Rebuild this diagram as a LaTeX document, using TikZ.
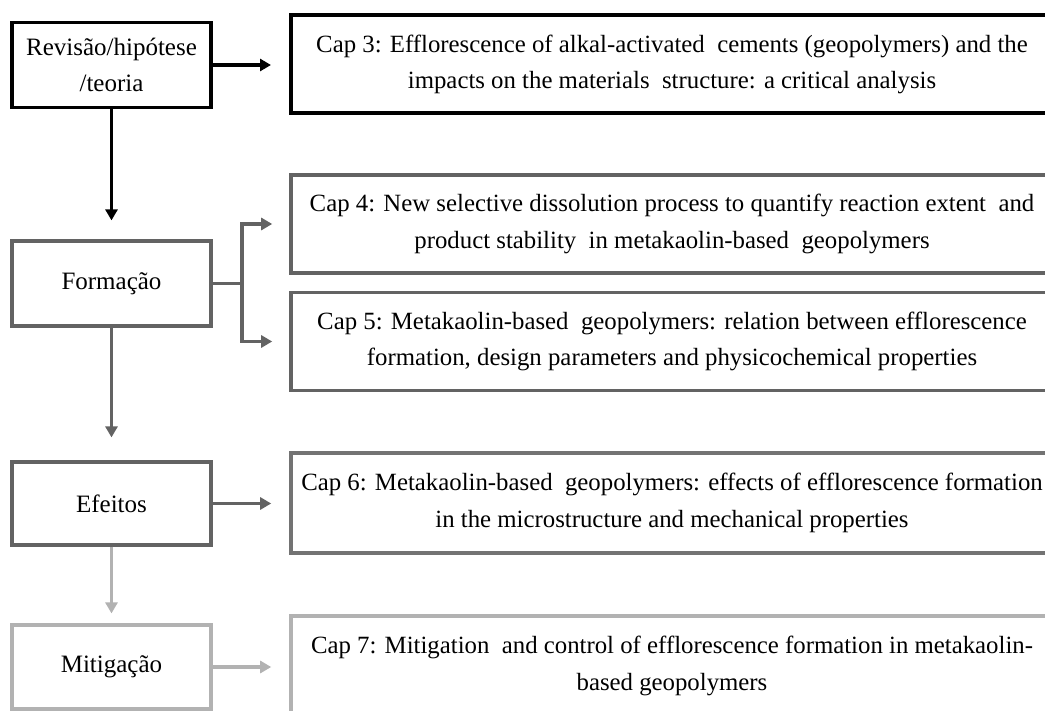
\documentclass[tikz,border=0pt]{standalone}
\usepackage{fontspec}
\setmainfont{Liberation Serif}
\usepackage{xcolor}
\usetikzlibrary{arrows.meta,positioning,calc}

\definecolor{stageblack}{HTML}{000000}
\definecolor{stagegray}{HTML}{636363}
\definecolor{stagelight}{HTML}{B2B2B2}

\tikzset{
  stagebox/.style={draw,rectangle,fill=white,line width=3.2pt,minimum width=199pt,
    minimum height=85pt,align=center,inner sep=0pt,font=\fontsize{25}{36}\selectfont},
  capbox/.style={draw,rectangle,fill=white,line width=3.6pt,minimum width=762pt,
    minimum height=98pt,align=center,inner sep=0pt,font=\fontsize{24.8}{36.5}\selectfont},
  link/.style={line width=3.2pt,-{Triangle[length=11pt,width=12pt]}}
}

\begin{document}
\begin{tikzpicture}[x=1pt,y=-1pt]
  \clip (0,0) rectangle (1045,711);
  \fill[white] (0,0) rectangle (1045,711);

  % stages on the left
  \node[stagebox,draw=stageblack] (rev) at (111.5,65) {Revisão/hipótese\\/teoria};
  \node[stagebox,draw=stagegray] (form) at (111.5,283.5) {Formação};
  \node[stagebox,draw=stagegray,minimum height=83pt] (eff) at (111.5,503.5) {Efeitos};
  \node[stagebox,draw=stagelight,minimum height=84pt] (mit) at (111.5,667) {Mitigação};

  % chapters on the right
  \node[capbox,draw=stageblack,line width=4pt] (cap3) at (672,64.5)
    {Cap 3: Efflorescence of alkal-activated \ cements (geopolymers) and the\\
     impacts on the materials \ structure: a critical analysis};
  \node[capbox,draw=stagegray] (cap4) at (672,224)
    {Cap 4: New selective dissolution process to quantify reaction extent \ and\\
     product stability \ in metakaolin-based \ geopolymers};
  \node[capbox,draw=stagegray] (cap5) at (672,341.5)
    {Cap 5: Metakaolin-based \ geopolymers: relation between efflorescence\\
     formation, design parameters and physicochemical properties};
  \node[capbox,draw=stagegray!90,minimum height=100pt] (cap6) at (672,503)
    {Cap 6: Metakaolin-based \ geopolymers: effects of efflorescence formation\\
     in the microstructure and mechanical properties};
  \node[capbox,draw=stagelight,minimum height=100pt] (cap7) at (672,666)
    {Cap 7: Mitigation \ and control of efflorescence formation in metakaolin-\\
     based geopolymers};

  % connectors
  \coordinate (fork) at (242,283.5);
  \draw[link,stageblack,shorten >=18pt] (rev.east) -- (cap3.west |- rev.east);
  \draw[link,stageblack,shorten >=19pt] (rev.south) -- (form.north);
  \draw[stagegray,line width=3.2pt] (form.east) -- (fork);
  \draw[link,stagegray,shorten >=17pt] (fork) |- (cap4.west);
  \draw[link,stagegray,shorten >=17pt] (fork) |- (cap5.west);
  \draw[link,stagegray,shorten >=23pt] (form.south) -- (eff.north);
  \draw[link,stagegray,shorten >=18pt] (eff.east) -- (cap6.west |- eff.east);
  \draw[link,stagelight,shorten >=10pt] (eff.south) -- (mit.north);
  \draw[link,stagelight,shorten >=18pt] (mit.east) -- (cap7.west |- mit.east);
\end{tikzpicture}
\end{document}
